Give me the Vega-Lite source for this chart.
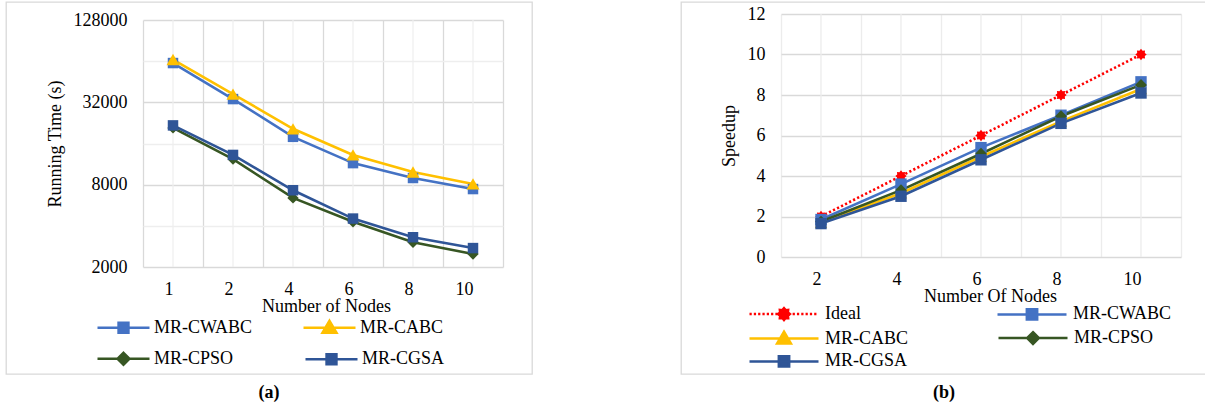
{
  "$schema": "https://vega.github.io/schema/vega-lite/v6.json",
  "background": "white",
  "padding": {"left": 5, "top": 1, "right": 0, "bottom": 0},
  "spacing": 147,
  "config": {
    "font": "Liberation Serif",
    "axis": {"labelFont": "Liberation Serif", "labelFontSize": 18, "labelColor": "#000000", "titleFont": "Liberation Serif", "titleFontSize": 18, "titleFontWeight": "normal", "titleColor": "#000000", "ticks": false, "tickSize": 0, "domain": false},
    "legend": {"orient": "none", "direction": "horizontal", "columns": 2, "symbolStrokeWidth": 2.5, "symbolOpacity": 1, "labelFont": "Liberation Serif", "labelFontSize": 18, "labelColor": "#000000"},
    "title": {"font": "Liberation Serif", "fontSize": 18, "fontWeight": "bold", "color": "#000000"}
  },
  "resolve": {
    "scale": {"color": "independent", "fill": "independent", "stroke": "independent", "shape": "independent"}
  },
  "hconcat": [
    {
      "width": 526,
      "height": 372,
      "view": {"stroke": "#D9D9D9", "strokeWidth": 1.3},
      "title": {"text": "(a)", "orient": "bottom", "offset": 10},
      "resolve": {"scale": {"fill": "independent", "stroke": "independent", "shape": "independent"}},
      "data": {"values": [
        {"Nodes": 1, "Algorithm": "MR-CWABC", "Time": 62000},
        {"Nodes": 2, "Algorithm": "MR-CWABC", "Time": 33800},
        {"Nodes": 4, "Algorithm": "MR-CWABC", "Time": 17900},
        {"Nodes": 6, "Algorithm": "MR-CWABC", "Time": 11500},
        {"Nodes": 8, "Algorithm": "MR-CWABC", "Time": 8950},
        {"Nodes": 10, "Algorithm": "MR-CWABC", "Time": 7430},
        {"Nodes": 1, "Algorithm": "MR-CABC", "Time": 65800},
        {"Nodes": 2, "Algorithm": "MR-CABC", "Time": 36800},
        {"Nodes": 4, "Algorithm": "MR-CABC", "Time": 20500},
        {"Nodes": 6, "Algorithm": "MR-CABC", "Time": 13200},
        {"Nodes": 8, "Algorithm": "MR-CABC", "Time": 9900},
        {"Nodes": 10, "Algorithm": "MR-CABC", "Time": 8100},
        {"Nodes": 1, "Algorithm": "MR-CPSO", "Time": 20800},
        {"Nodes": 2, "Algorithm": "MR-CPSO", "Time": 12300},
        {"Nodes": 4, "Algorithm": "MR-CPSO", "Time": 6400},
        {"Nodes": 6, "Algorithm": "MR-CPSO", "Time": 4280},
        {"Nodes": 8, "Algorithm": "MR-CPSO", "Time": 3030},
        {"Nodes": 10, "Algorithm": "MR-CPSO", "Time": 2490},
        {"Nodes": 1, "Algorithm": "MR-CGSA", "Time": 21700},
        {"Nodes": 2, "Algorithm": "MR-CGSA", "Time": 13200},
        {"Nodes": 4, "Algorithm": "MR-CGSA", "Time": 7280},
        {"Nodes": 6, "Algorithm": "MR-CGSA", "Time": 4520},
        {"Nodes": 8, "Algorithm": "MR-CGSA", "Time": 3300},
        {"Nodes": 10, "Algorithm": "MR-CGSA", "Time": 2750}
      ]},
      "layer": [
        {
          "data": {"values": [{"Nodes": 1}, {"Nodes": 2}, {"Nodes": 4}, {"Nodes": 6}, {"Nodes": 8}, {"Nodes": 10}]},
          "mark": {"type": "rule", "color": "#EEEEEE", "strokeWidth": 1.2},
          "encoding": {
            "x": {"field": "Nodes", "type": "ordinal"},
            "y": {"datum": 2000, "type": "quantitative"},
            "y2": {"datum": 128000}
          }
        },
        {
          "mark": {"type": "line", "strokeWidth": 2.6},
          "encoding": {
            "x": {"field": "Nodes", "type": "ordinal",
              "scale": {"type": "band", "domain": [1, 2, 4, 6, 8, 10], "range": [137, 497], "paddingInner": 0, "paddingOuter": 0},
              "axis": {"orient": "top", "offset": -265, "title": "Number of Nodes", "labelAngle": 0, "labelPadding": -22, "labelBaseline": "middle", "tickBand": "extent", "grid": true, "gridColor": "#D9D9D9", "gridWidth": 1.3, "titleX": 320, "titleY": 39, "titleBaseline": "middle"}},
            "y": {"field": "Time", "type": "quantitative",
              "scale": {"type": "log", "domain": [2000, 128000], "range": [265, 18], "nice": false},
              "axis": {"orient": "left", "offset": -137, "title": "Running Time (s)", "values": [2000, 4000, 8000, 16000, 32000, 64000, 128000], "labelExpr": "indexof([2000,8000,32000,128000], datum.value) >= 0 ? '' + datum.value : ''", "labelPadding": 16, "grid": true, "gridColor": {"condition": {"test": "indexof([4000,16000,64000], datum.value) >= 0", "value": "#EEEEEE"}, "value": "#D9D9D9"}, "gridWidth": 1.3, "titlePadding": 9}},
            "color": {"field": "Algorithm", "type": "nominal",
              "scale": {"domain": ["MR-CWABC", "MR-CABC", "MR-CPSO", "MR-CGSA"], "range": ["#4472C4", "#FFC000", "#375623", "#2F5597"]},
              "legend": null}
          }
        },
        {
          "transform": [{"filter": {"field": "Algorithm", "equal": "MR-CWABC"}}],
          "mark": {"type": "point", "shape": "square", "filled": true, "opacity": 1, "size": 110},
          "encoding": {"x": {"field": "Nodes", "type": "ordinal"}, "y": {"field": "Time", "type": "quantitative"}, "color": {"field": "Algorithm", "type": "nominal", "legend": null}}
        },
        {
          "transform": [{"filter": {"field": "Algorithm", "equal": "MR-CABC"}}],
          "mark": {"type": "point", "shape": "triangle-up", "filled": true, "opacity": 1, "size": 170},
          "encoding": {"x": {"field": "Nodes", "type": "ordinal"}, "y": {"field": "Time", "type": "quantitative"}, "color": {"field": "Algorithm", "type": "nominal", "legend": null}}
        },
        {
          "transform": [{"filter": {"field": "Algorithm", "equal": "MR-CPSO"}}],
          "mark": {"type": "point", "shape": "diamond", "filled": true, "opacity": 1, "size": 130},
          "encoding": {"x": {"field": "Nodes", "type": "ordinal"}, "y": {"field": "Time", "type": "quantitative"}, "color": {"field": "Algorithm", "type": "nominal", "legend": null}}
        },
        {
          "transform": [{"filter": {"field": "Algorithm", "equal": "MR-CGSA"}}],
          "mark": {"type": "point", "shape": "square", "filled": true, "opacity": 1, "size": 110},
          "encoding": {"x": {"field": "Nodes", "type": "ordinal"}, "y": {"field": "Time", "type": "quantitative"}, "color": {"field": "Algorithm", "type": "nominal", "legend": null}}
        },
        {
          "transform": [{"filter": "false"}],
          "mark": {"type": "point", "filled": true, "strokeWidth": 2.5, "opacity": 1},
          "encoding": {
            "fill": {"field": "Algorithm", "type": "nominal",
              "scale": {"domain": ["MR-CWABC", "MR-CABC"], "range": ["#4472C4", "#FFC000"]},
              "legend": {"title": null, "legendX": 90, "legendY": 298, "columnPadding": 45, "symbolSize": 2704, "labelOffset": 3}},
            "stroke": {"field": "Algorithm", "type": "nominal",
              "scale": {"domain": ["MR-CWABC", "MR-CABC"], "range": ["#4472C4", "#FFC000"]},
              "legend": {"title": null, "legendX": 90, "legendY": 298, "columnPadding": 45, "symbolSize": 2704, "labelOffset": 3}},
            "shape": {"field": "Algorithm", "type": "nominal",
              "scale": {"domain": ["MR-CWABC", "MR-CABC"], "range": ["M-1,0H1M-0.19,-0.19H0.19V0.19H-0.19Z", "M-1,0H1M0,-0.27L0.27,0.19H-0.27Z"]},
              "legend": {"title": null, "legendX": 90, "legendY": 298, "columnPadding": 45, "symbolSize": 2704, "labelOffset": 3}}
          }
        },
        {
          "transform": [{"filter": "false"}],
          "mark": {"type": "point", "filled": true, "strokeWidth": 2.5, "opacity": 1},
          "encoding": {
            "fill": {"field": "Algorithm", "type": "nominal",
              "scale": {"domain": ["MR-CPSO", "MR-CGSA"], "range": ["#375623", "#2F5597"]},
              "legend": {"title": null, "legendX": 90, "legendY": 329, "columnPadding": 66, "symbolSize": 2704, "labelOffset": 3}},
            "stroke": {"field": "Algorithm", "type": "nominal",
              "scale": {"domain": ["MR-CPSO", "MR-CGSA"], "range": ["#375623", "#2F5597"]},
              "legend": {"title": null, "legendX": 90, "legendY": 329, "columnPadding": 66, "symbolSize": 2704, "labelOffset": 3}},
            "shape": {"field": "Algorithm", "type": "nominal",
              "scale": {"domain": ["MR-CPSO", "MR-CGSA"], "range": ["M-1,0H1M0,-0.23L0.23,0L0,0.23L-0.23,0Z", "M-1,0H1M-0.19,-0.19H0.19V0.19H-0.19Z"]},
              "legend": {"title": null, "legendX": 90, "legendY": 329, "columnPadding": 66, "symbolSize": 2704, "labelOffset": 3}}
          }
        }
      ]
    },
    {
      "width": 526,
      "height": 372,
      "view": {"stroke": "#D9D9D9", "strokeWidth": 1.3},
      "title": {"text": "(b)", "orient": "bottom", "offset": 10},
      "resolve": {"scale": {"fill": "independent", "stroke": "independent", "shape": "independent"}},
      "data": {"values": [
        {"Nodes": 2, "Algorithm": "Ideal", "Speedup": 2},
        {"Nodes": 4, "Algorithm": "Ideal", "Speedup": 4},
        {"Nodes": 6, "Algorithm": "Ideal", "Speedup": 6},
        {"Nodes": 8, "Algorithm": "Ideal", "Speedup": 8},
        {"Nodes": 10, "Algorithm": "Ideal", "Speedup": 10},
        {"Nodes": 2, "Algorithm": "MR-CWABC", "Speedup": 1.85},
        {"Nodes": 4, "Algorithm": "MR-CWABC", "Speedup": 3.6},
        {"Nodes": 6, "Algorithm": "MR-CWABC", "Speedup": 5.4},
        {"Nodes": 8, "Algorithm": "MR-CWABC", "Speedup": 7.0},
        {"Nodes": 10, "Algorithm": "MR-CWABC", "Speedup": 8.65},
        {"Nodes": 2, "Algorithm": "MR-CABC", "Speedup": 1.7},
        {"Nodes": 4, "Algorithm": "MR-CABC", "Speedup": 3.15},
        {"Nodes": 6, "Algorithm": "MR-CABC", "Speedup": 4.95},
        {"Nodes": 8, "Algorithm": "MR-CABC", "Speedup": 6.7},
        {"Nodes": 10, "Algorithm": "MR-CABC", "Speedup": 8.3},
        {"Nodes": 2, "Algorithm": "MR-CPSO", "Speedup": 1.75},
        {"Nodes": 4, "Algorithm": "MR-CPSO", "Speedup": 3.3},
        {"Nodes": 6, "Algorithm": "MR-CPSO", "Speedup": 5.1},
        {"Nodes": 8, "Algorithm": "MR-CPSO", "Speedup": 6.95},
        {"Nodes": 10, "Algorithm": "MR-CPSO", "Speedup": 8.5},
        {"Nodes": 2, "Algorithm": "MR-CGSA", "Speedup": 1.65},
        {"Nodes": 4, "Algorithm": "MR-CGSA", "Speedup": 3.0},
        {"Nodes": 6, "Algorithm": "MR-CGSA", "Speedup": 4.8},
        {"Nodes": 8, "Algorithm": "MR-CGSA", "Speedup": 6.6},
        {"Nodes": 10, "Algorithm": "MR-CGSA", "Speedup": 8.1}
      ]},
      "layer": [
        {
          "data": {"values": [{"Nodes": 2}, {"Nodes": 4}, {"Nodes": 6}, {"Nodes": 8}, {"Nodes": 10}]},
          "mark": {"type": "rule", "color": "#ECECEC", "strokeWidth": 1.3},
          "encoding": {
            "x": {"field": "Nodes", "type": "ordinal"},
            "y": {"datum": 0, "type": "quantitative"},
            "y2": {"datum": 12}
          }
        },
        {
          "transform": [{"filter": {"field": "Algorithm", "equal": "Ideal"}}],
          "mark": {"type": "line", "strokeWidth": 2.6, "strokeDash": [2.2, 2.3]},
          "encoding": {
            "x": {"field": "Nodes", "type": "ordinal"},
            "y": {"field": "Speedup", "type": "quantitative"},
            "color": {"field": "Algorithm", "type": "nominal", "legend": null}
          }
        },
        {
          "transform": [{"filter": {"field": "Algorithm", "oneOf": ["MR-CWABC", "MR-CABC", "MR-CPSO", "MR-CGSA"]}}],
          "mark": {"type": "line", "strokeWidth": 2.6},
          "encoding": {
            "x": {"field": "Nodes", "type": "ordinal",
              "scale": {"type": "band", "domain": [2, 4, 6, 8, 10], "range": [100, 500], "paddingInner": 0, "paddingOuter": 0},
              "axis": {"orient": "top", "offset": -255, "title": "Number Of Nodes", "labelAngle": 0, "labelPadding": -22, "labelBaseline": "middle", "tickBand": "extent", "grid": true, "gridColor": "#ECECEC", "gridWidth": 1.3, "titleX": 309, "titleY": 39, "titleBaseline": "middle"}},
            "y": {"field": "Speedup", "type": "quantitative",
              "scale": {"type": "linear", "domain": [0, 12], "range": [255, 12], "nice": false, "zero": false},
              "axis": {"orient": "left", "offset": -100, "title": "Speedup", "values": [0, 2, 4, 6, 8, 10, 12], "labelPadding": 16, "grid": true, "gridColor": "#D9D9D9", "gridWidth": 1.3, "titlePadding": 9}},
            "color": {"field": "Algorithm", "type": "nominal",
              "scale": {"domain": ["Ideal", "MR-CWABC", "MR-CABC", "MR-CPSO", "MR-CGSA"], "range": ["#FF0000", "#4472C4", "#FFC000", "#375623", "#2F5597"]},
              "legend": null}
          }
        },
        {
          "transform": [{"filter": {"field": "Algorithm", "equal": "Ideal"}}],
          "mark": {"type": "point", "shape": "M1,0L0.665,0.276L0.707,0.707L0.276,0.665L0,1L-0.276,0.665L-0.707,0.707L-0.665,0.276L-1,0L-0.665,-0.276L-0.707,-0.707L-0.276,-0.665L0,-1L0.276,-0.665L0.707,-0.707L0.665,-0.276Z", "filled": true, "opacity": 1, "size": 130},
          "encoding": {"x": {"field": "Nodes", "type": "ordinal"}, "y": {"field": "Speedup", "type": "quantitative"}, "color": {"field": "Algorithm", "type": "nominal", "legend": null}}
        },
        {
          "transform": [{"filter": {"field": "Algorithm", "equal": "MR-CWABC"}}],
          "mark": {"type": "point", "shape": "square", "filled": true, "opacity": 1, "size": 130},
          "encoding": {"x": {"field": "Nodes", "type": "ordinal"}, "y": {"field": "Speedup", "type": "quantitative"}, "color": {"field": "Algorithm", "type": "nominal", "legend": null}}
        },
        {
          "transform": [{"filter": {"field": "Algorithm", "equal": "MR-CABC"}}],
          "mark": {"type": "point", "shape": "triangle-up", "filled": true, "opacity": 1, "size": 150},
          "encoding": {"x": {"field": "Nodes", "type": "ordinal"}, "y": {"field": "Speedup", "type": "quantitative"}, "color": {"field": "Algorithm", "type": "nominal", "legend": null}}
        },
        {
          "transform": [{"filter": {"field": "Algorithm", "equal": "MR-CPSO"}}],
          "mark": {"type": "point", "shape": "diamond", "filled": true, "opacity": 1, "size": 140},
          "encoding": {"x": {"field": "Nodes", "type": "ordinal"}, "y": {"field": "Speedup", "type": "quantitative"}, "color": {"field": "Algorithm", "type": "nominal", "legend": null}}
        },
        {
          "transform": [{"filter": {"field": "Algorithm", "equal": "MR-CGSA"}}],
          "mark": {"type": "point", "shape": "square", "filled": true, "opacity": 1, "size": 130},
          "encoding": {"x": {"field": "Nodes", "type": "ordinal"}, "y": {"field": "Speedup", "type": "quantitative"}, "color": {"field": "Algorithm", "type": "nominal", "legend": null}}
        },
        {
          "transform": [{"filter": "false"}],
          "mark": {"type": "point", "filled": true, "strokeWidth": 2.5, "opacity": 1},
          "encoding": {
            "fill": {"field": "Algorithm", "type": "nominal",
              "scale": {"domain": ["Ideal", "MR-CWABC"], "range": ["#FF0000", "#4472C4"]},
              "legend": {"title": null, "legendX": 67, "legendY": 276, "columnPadding": 131, "symbolSize": 4761, "labelOffset": 5}},
            "stroke": {"field": "Algorithm", "type": "nominal",
              "scale": {"domain": ["Ideal", "MR-CWABC"], "range": ["#FF0000", "#4472C4"]},
              "legend": {"title": null, "legendX": 67, "legendY": 276, "columnPadding": 131, "symbolSize": 4761, "labelOffset": 5}},
            "shape": {"field": "Algorithm", "type": "nominal",
              "scale": {"domain": ["Ideal", "MR-CWABC"], "range": [
                "M-1,0h0.065M-0.875,0h0.065M-0.75,0h0.065M-0.625,0h0.065M-0.5,0h0.065M-0.375,0h0.065M-0.25,0h0.065M0.125,0h0.065M0.25,0h0.065M0.375,0h0.065M0.5,0h0.065M0.625,0h0.065M0.75,0h0.065M0.875,0h0.065M0.17,0L0.113,0.047L0.12,0.12L0.047,0.113L0,0.17L-0.047,0.113L-0.12,0.12L-0.113,0.047L-0.17,0L-0.113,-0.047L-0.12,-0.12L-0.047,-0.113L0,-0.17L0.047,-0.113L0.12,-0.12L0.113,-0.047Z",
                "M-1,0H1M-0.15,-0.15H0.15V0.15H-0.15Z"]},
              "legend": {"title": null, "legendX": 67, "legendY": 276, "columnPadding": 131, "symbolSize": 4761, "labelOffset": 5}}
          }
        },
        {
          "transform": [{"filter": "false"}],
          "mark": {"type": "point", "filled": true, "strokeWidth": 2.5, "opacity": 1},
          "encoding": {
            "fill": {"field": "Algorithm", "type": "nominal",
              "scale": {"domain": ["MR-CABC", "MR-CPSO"], "range": ["#FFC000", "#375623"]},
              "legend": {"title": null, "legendX": 67, "legendY": 300, "columnPadding": 84, "symbolSize": 4761, "labelOffset": 5}},
            "stroke": {"field": "Algorithm", "type": "nominal",
              "scale": {"domain": ["MR-CABC", "MR-CPSO"], "range": ["#FFC000", "#375623"]},
              "legend": {"title": null, "legendX": 67, "legendY": 300, "columnPadding": 84, "symbolSize": 4761, "labelOffset": 5}},
            "shape": {"field": "Algorithm", "type": "nominal",
              "scale": {"domain": ["MR-CABC", "MR-CPSO"], "range": ["M-1,0H1M0,-0.2L0.2,0.14H-0.2Z", "M-1,0H1M0,-0.17L0.17,0L0,0.17L-0.17,0Z"]},
              "legend": {"title": null, "legendX": 67, "legendY": 300, "columnPadding": 84, "symbolSize": 4761, "labelOffset": 5}}
          }
        },
        {
          "transform": [{"filter": "false"}],
          "mark": {"type": "point", "filled": true, "strokeWidth": 2.5, "opacity": 1},
          "encoding": {
            "fill": {"field": "Algorithm", "type": "nominal",
              "scale": {"domain": ["MR-CGSA"], "range": ["#2F5597"]},
              "legend": {"title": null, "legendX": 67, "legendY": 323, "symbolSize": 4761, "labelOffset": 5}},
            "stroke": {"field": "Algorithm", "type": "nominal",
              "scale": {"domain": ["MR-CGSA"], "range": ["#2F5597"]},
              "legend": {"title": null, "legendX": 67, "legendY": 323, "symbolSize": 4761, "labelOffset": 5}},
            "shape": {"field": "Algorithm", "type": "nominal",
              "scale": {"domain": ["MR-CGSA"], "range": ["M-1,0H1M-0.15,-0.15H0.15V0.15H-0.15Z"]},
              "legend": {"title": null, "legendX": 67, "legendY": 323, "symbolSize": 4761, "labelOffset": 5}}
          }
        }
      ]
    }
  ]
}
